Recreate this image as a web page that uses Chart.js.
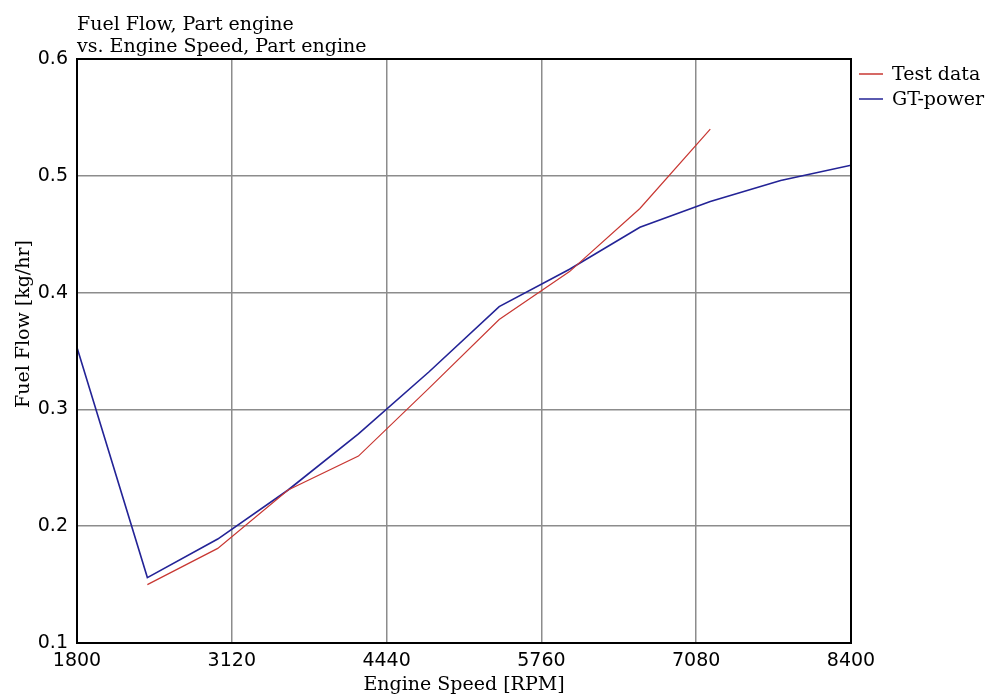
<!DOCTYPE html>
<html>
<head>
<meta charset="utf-8">
<script src="https://cdn.jsdelivr.net/npm/chart.js@4"></script>
<style>
  html, body { margin: 0; padding: 0; background: #fff; }
  #wrap { width: 989px; height: 695px; }
</style>
</head>
<body>
<div id="wrap"><canvas id="fuelChart"></canvas></div>
<script>
// values
const titleLines = ['Fuel Flow, Part engine', 'vs. Engine Speed, Part engine'];
const yTitle = 'Fuel Flow [kg/hr]';
const speedTest = [2400, 3000, 3600, 4200, 4800, 5400, 6000, 6600, 7200];
const fuelTest = [0.150, 0.181, 0.231, 0.260, 0.318, 0.377, 0.418, 0.472, 0.540];
const speedSim = [1800, 2400, 3000, 3600, 4200, 4800, 5400, 6000, 6600, 7200, 7800, 8400];
const fuelSim = [0.353, 0.156, 0.189, 0.231, 0.279, 0.332, 0.388, 0.420, 0.456, 0.478, 0.496, 0.509];
const xTicks = [1800, 3120, 4440, 5760, 7080, 8400];
const yTicks = [0.1, 0.2, 0.3, 0.4, 0.5, 0.6];

const serif = '"DejaVu Serif", serif';
const sans = '"DejaVu Sans", sans-serif';

const toPoints = (xs, ys) => xs.map((x, i) => ({ x: x, y: ys[i] }));

// title, y title, plot frame and legend
const decorations = {
  id: 'decorations',
  afterDraw(chart) {
    const ctx = chart.ctx;
    const area = chart.chartArea;
    ctx.save();
    ctx.strokeStyle = '#000';
    ctx.lineWidth = 2;
    ctx.strokeRect(area.left, area.top, area.right - area.left, area.bottom - area.top);

    ctx.fillStyle = '#000';
    ctx.font = '19px ' + serif;
    ctx.textBaseline = 'alphabetic';
    ctx.textAlign = 'left';
    ctx.fillText(titleLines[0], area.left, 30);
    ctx.fillText(titleLines[1], area.left, 52);

    chart.data.datasets.forEach((ds, i) => {
      const y = 74 + i * 25;
      ctx.strokeStyle = ds.borderColor;
      ctx.lineWidth = 1.5;
      ctx.beginPath();
      ctx.moveTo(area.right + 8, y);
      ctx.lineTo(area.right + 32, y);
      ctx.stroke();
      ctx.textBaseline = 'middle';
      ctx.fillText(ds.label, area.right + 41, y + 1);
    });

    ctx.translate(24, 324);
    ctx.rotate(-Math.PI / 2);
    ctx.textAlign = 'center';
    ctx.textBaseline = 'middle';
    ctx.fillText(yTitle, 0, 0);
    ctx.restore();
  }
};

const ctx = document.getElementById('fuelChart').getContext('2d');
const fuelChart = new Chart(ctx, {
  type: 'line',
  data: {
    datasets: [
      {
        label: 'Test data',
        data: toPoints(speedTest, fuelTest),
        borderColor: 'rgb(200, 55, 50)',
        borderWidth: 1.2,
        pointRadius: 0,
        tension: 0,
        fill: false,
      },
      {
        label: 'GT-power',
        data: toPoints(speedSim, fuelSim),
        borderColor: 'rgb(35, 35, 150)',
        borderWidth: 1.6,
        pointRadius: 0,
        tension: 0,
        fill: false,
      },
    ],
  },
  options: {
    responsive: true,
    maintainAspectRatio: false,
    animation: false,
    events: [],
    layout: { padding: { top: 59, right: 138, left: 0, bottom: 0 } },
    plugins: {
      legend: { display: false },
      title: { display: false },
      tooltip: { enabled: false },
    },
    scales: {
      x: {
        type: 'linear',
        min: 1800,
        max: 8400,
        afterBuildTicks: (scale) => { scale.ticks = xTicks.map(v => ({ value: v })); },
        afterFit: (scale) => { scale.height = 52; },
        grid: { color: '#8c8c8c', lineWidth: 1.5, drawTicks: false },
        border: { display: false },
        ticks: {
          padding: 7,
          color: '#000',
          font: { family: sans, size: 19 },
          maxRotation: 0,
          callback: (v) => String(v),
        },
        title: {
          display: true,
          text: 'Engine Speed [RPM]',
          color: '#000',
          font: { family: serif, size: 19, lineHeight: 1 },
          padding: { top: 0, bottom: 0 },
        },
      },
      y: {
        type: 'linear',
        min: 0.1,
        max: 0.6,
        afterBuildTicks: (scale) => { scale.ticks = yTicks.map(v => ({ value: v })); },
        afterFit: (scale) => { scale.width = 77; },
        grid: { color: '#8c8c8c', lineWidth: 1.5, drawTicks: false },
        border: { display: false },
        ticks: {
          padding: 9,
          color: '#000',
          font: { family: sans, size: 19 },
          callback: (v) => String(Math.round(v * 10) / 10),
        },
      },
    },
  },
  plugins: [decorations],
});
</script>
</body>
</html>
